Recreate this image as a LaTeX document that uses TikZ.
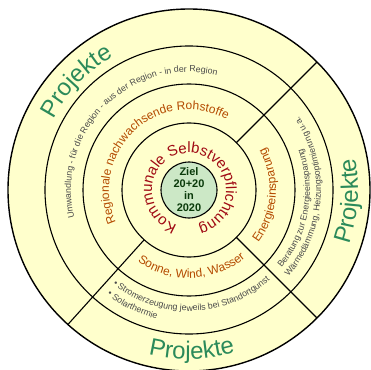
\documentclass[tikz,border=0pt]{standalone}
\usepackage{fontspec}
\setmainfont{Liberation Sans}
\usetikzlibrary{decorations.text}
\definecolor{bgyellow}{HTML}{FFFFCC}
\definecolor{centergreen}{HTML}{CCE8C6}
\definecolor{projgreen}{HTML}{2B8A5A}
\definecolor{komred}{HTML}{A00A14}
\definecolor{ringorange}{HTML}{B44A00}
\definecolor{smallgray}{HTML}{4A4A4A}
\definecolor{zielgreen}{HTML}{0A3A0A}
\newcommand\arctxt[5]{%
  \path[decorate,decoration={text along path,text align=center,text={|#4|#5}}]
    (#1:#3pt) arc[start angle=#1,end angle=#2,radius=#3pt];}
\newcommand\arctxtl[5]{%
  \path[decorate,decoration={text along path,text align=left,text={|#4|#5}}]
    (#1:#3pt) arc[start angle=#1,end angle=#2,radius=#3pt];}
\newcommand\projfont{\fontsize{24}{24}\selectfont\color{projgreen}}
\newcommand\orfont{\fontsize{12}{12}\selectfont\color{ringorange}}
\newcommand\smfont{\fontsize{8.8}{9}\selectfont\color{smallgray}}
\newcommand\komfont{\fontsize{15}{15}\selectfont\color{komred}}
\begin{document}
\begin{tikzpicture}[x=1pt,y=1pt,
  ringline/.style={draw=black,line width=1.1pt},
  divider/.style={draw=black,line width=1.1pt}]
\useasboundingbox (-189,-179) rectangle (182,190);
\fill[white] (-189,-179) rectangle (182,190);
\filldraw[fill=bgyellow,draw=black,line width=1.4pt] (0,0) circle[radius=181pt];
\draw[ringline] (0,0) circle[radius=144pt];
\draw[ringline] (0,0) circle[radius=106pt];
\draw[ringline] (0,0) circle[radius=67pt];
\filldraw[fill=centergreen,ringline] (0,0) circle[radius=28pt];
\draw[divider] (45:67pt) -- (45:181pt);
\draw[divider] (-45:67pt) -- (-45:181pt);
\draw[divider] (228:67pt) -- (228:181pt);
\node[align=center,font=\fontsize{11}{12}\selectfont\bfseries,text=zielgreen] (ziel) at (0,0) {Ziel\\20+20\\in\\2020};
% innermost ring
\arctxt{265}{-89}{37}{\komfont}{Kommunale Selbstverpflichtung}
% second ring
\arctxt{223}{43}{80}{\orfont}{Regionale nachwachsende Rohstoffe}
\arctxt{-49}{41}{87}{\orfont}{Energieeinsparung}
\arctxt{227}{317}{88}{\orfont}{Sonne, Wind, Wasser}
% third ring
\arctxt{225}{45}{118}{\smfont}{Umwandlung - für die Region - aus der Region - in der Region}
\arctxtl{-40}{40}{121}{\smfont}{Beratung zur Energieeinsparung}
\arctxtl{-41}{50}{132}{\smfont}{Wärmedämmung, Heizungsoptimierung u.a.}
\arctxtl{231}{330}{121}{\smfont}{• Stromerzeugung jeweils bei Standortgunst}
\arctxtl{232}{300}{133}{\smfont}{• Solarthermie}
% outer ring
\arctxt{196}{76}{153}{\projfont}{Projekte}
\arctxt{-49}{41}{169}{\projfont}{Projekte}
\arctxt{226}{316}{169}{\projfont}{Projekte}
\end{tikzpicture}
\end{document}
